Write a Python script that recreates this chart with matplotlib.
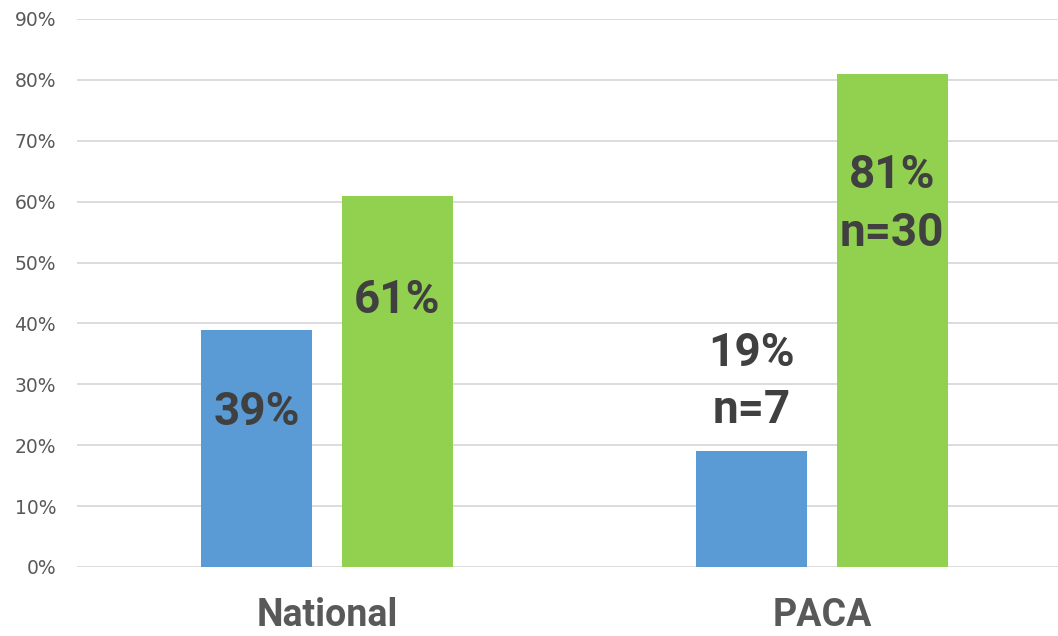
import matplotlib
matplotlib.use("Agg")
import matplotlib.pyplot as plt
from matplotlib.ticker import FuncFormatter

categories = ["National", "PACA"]
series_blue = [39, 19]
series_green = [61, 81]
green_n = [None, 30]
blue_n = [None, 7]
yticks = list(range(0, 91, 10))

BLUE = "#5B9BD5"
GREEN = "#92D050"
LABEL = "#404040"
TICK = "#595959"
GRID = "#D9D9D9"

W, H = 1058, 636
fig = plt.figure(figsize=(W / 100, H / 100), dpi=100)
fig.patch.set_facecolor("white")

# axes: left at x=77, x-units of 495 px, y: 0 at 567, 90 at 19
x0_px = 77
unit = 495
xlim = (-0.505, 1.505)
ax_w = (xlim[1] - xlim[0]) * unit
ax = fig.add_axes([x0_px / W, (H - 567) / H, ax_w / W, (567 - 19) / H])
ax.set_xlim(*xlim)
ax.set_ylim(0, 90)

bw = 0.224
off = 0.142
xs = list(range(len(categories)))
ax.bar([x - off for x in xs], series_blue, width=bw, color=BLUE, zorder=3)
ax.bar([x + off for x in xs], series_green, width=bw, color=GREEN, zorder=3)

ax.set_yticks(yticks)
ax.yaxis.set_major_formatter(FuncFormatter(lambda v, p: f"{int(v)}%"))
ax.tick_params(axis="y", length=0, pad=15, labelsize=13.5, labelcolor=TICK)
for t in ax.get_yticklabels():
    t.set_family("DejaVu Sans")
ax.tick_params(axis="x", length=0)
ax.set_xticks([])
ax.grid(axis="y", color=GRID, linewidth=1.3, zorder=0)
for s in ax.spines.values():
    s.set_visible(False)

lab_font = dict(family=["Roboto", "DejaVu Sans"], fontweight="bold",
                fontsize=33, color=LABEL, ha="center", va="center", zorder=5)

# National
ax.text(0 - off, series_blue[0] - 13.5, f"{series_blue[0]}%", **lab_font)
ax.text(0 + off, series_green[0] - 17.2, f"{series_green[0]}%", **lab_font)
# PACA
ax.text(1 - off, series_blue[1] + 16.1, f"{series_blue[1]}%", **lab_font)
ax.text(1 - off, series_blue[1] + 6.8, f"n={blue_n[1]}", **lab_font)
ax.text(1 + off, series_green[1] - 16.6, f"{series_green[1]}%", **lab_font)
ax.text(1 + off, series_green[1] - 26.2, f"n={green_n[1]}", **lab_font)

# category labels
for x, c in zip(xs, categories):
    ax.annotate(c, xy=(x, 0), xycoords="data", xytext=(0, -(634 - 567) * 0.72),
                textcoords="offset points", ha="center", va="bottom",
                family=["Roboto", "DejaVu Sans"], fontweight="bold",
                fontsize=27, color=TICK, annotation_clip=False)

fig.savefig("out.png", dpi=100, facecolor="white")
